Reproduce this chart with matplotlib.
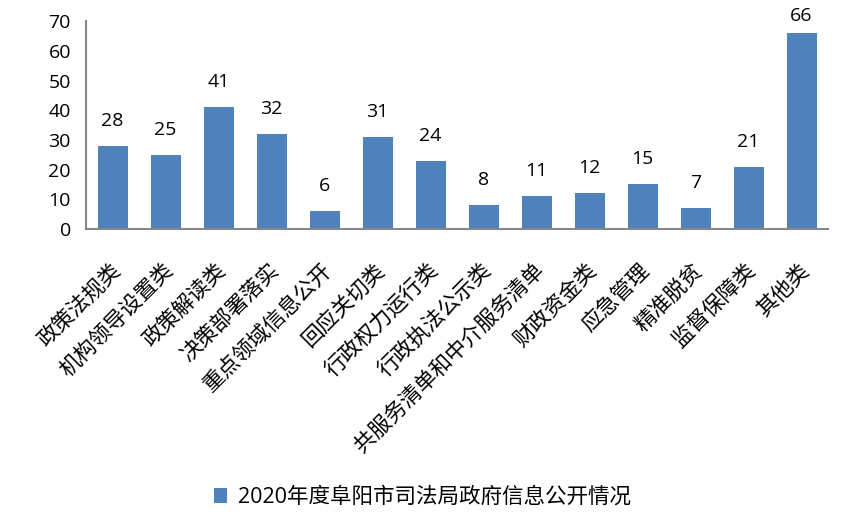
import matplotlib.pyplot as plt
from matplotlib.transforms import ScaledTranslation

plt.rcParams['font.family'] = ['Open Sans', 'Noto Sans CJK SC', 'DejaVu Sans']

categories = ['政策法规类', '机构领导设置类', '政策解读类', '决策部署落实', '重点领域信息公开',
              '回应关切类', '行政权力运行类', '行政执法公示类', '共服务清单和中介服务清单',
              '财政资金类', '应急管理', '精准脱贫', '监督保障类', '其他类']
# bar heights as drawn, and the data labels shown above them
bar_values = [28, 25, 41, 32, 6, 31, 23, 8, 11, 12, 15, 7, 21, 66]
value_labels = ['28', '25', '41', '32', '6', '31', '24', '8', '11', '12', '15', '7', '21', '66']
series_name = '2020年度阜阳市司法局政府信息公开情况'

fig = plt.figure(figsize=(8.45, 5.3), dpi=100)
ax = fig.add_axes([0.102, 0.568, 0.878, 0.392])

x = list(range(len(categories)))
bars = ax.bar(x, bar_values, width=0.57, color='#4F81BD', label=series_name)

for xi, v, lab in zip(x, bar_values, value_labels):
    # labels near the top of the plot area get pushed down like in excel
    dy = 18 if v < 60 else 12
    ax.annotate(lab, (xi, v), xytext=(0, dy), textcoords='offset points',
                ha='center', va='center', fontsize=14, color='black')

ax.set_xlim(-0.5, len(categories) - 0.5)
ax.set_ylim(0, 70)
ax.set_yticks(range(0, 71, 10))
ax.tick_params(axis='y', length=0, labelsize=14, pad=11)
ax.tick_params(axis='x', length=0)

ax.set_xticks(x)
ax.set_xticklabels(categories, rotation=45, ha='right', va='center',
                   rotation_mode='anchor', fontsize=15.5,
                   family=['Noto Sans CJK SC', 'DejaVu Sans'])
offset = ScaledTranslation(3 / 72, -24 / 72, fig.dpi_scale_trans)
for lbl in ax.get_xticklabels():
    lbl.set_transform(lbl.get_transform() + offset)

for side in ['top', 'right']:
    ax.spines[side].set_visible(False)
for side in ['left', 'bottom']:
    ax.spines[side].set_color('#868686')
    ax.spines[side].set_linewidth(1.5)

leg = fig.legend(handles=[bars], labels=[series_name], loc='center',
                 bbox_to_anchor=(0.5, 0.062), frameon=False,
                 handlelength=0.6, handleheight=0.7, handletextpad=0.5,
                 prop={'family': ['Open Sans', 'Noto Sans CJK SC'], 'size': 15.5})

fig.savefig('out.png', dpi=100)
